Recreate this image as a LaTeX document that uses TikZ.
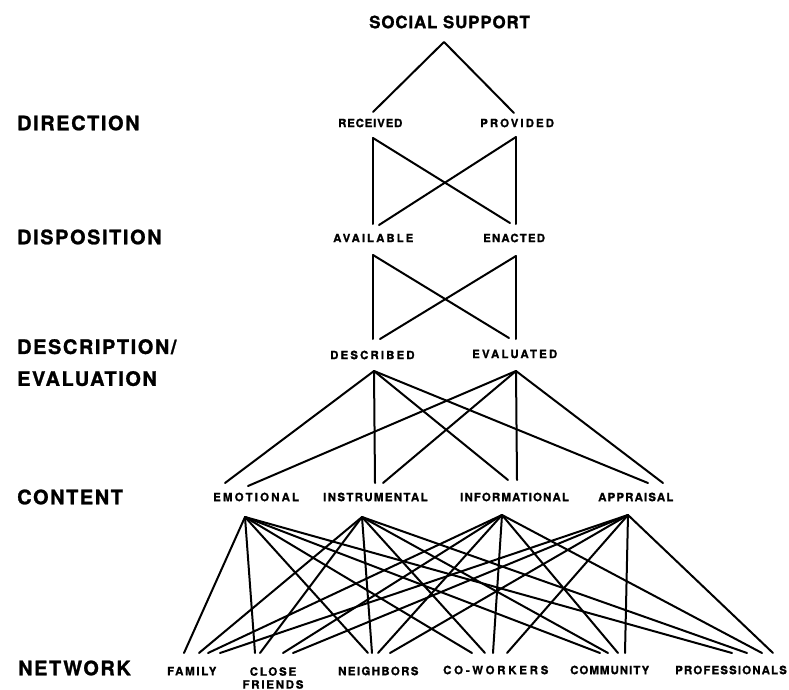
\documentclass[tikz,border=0pt]{standalone}
\usepackage{fontspec}
\setmainfont{TeX Gyre Heros}[BoldFeatures={FakeBold=1.2}]
\newcommand\lsp[1]{\addfontfeatures{LetterSpace=#1}}
\begin{document}
\begin{tikzpicture}[x=1bp,y=-1bp,
  lbl/.style={inner sep=0pt, anchor=west, font=\fontsize{11.5}{13}\selectfont\bfseries},
  lvl/.style={inner sep=0pt, anchor=west, font=\fontsize{20}{32}\selectfont\bfseries},
  ttl/.style={inner sep=0pt, anchor=west, font=\fontsize{17}{20}\selectfont\bfseries},
  conn/.style={line width=2bp, line cap=round, line join=round}]
\useasboundingbox (0,0) rectangle (789,690);

% level labels
\node[lvl] (Ldir) at (17,123) {\lsp{8}DIRECTION};
\node[lvl] (Ldisp) at (17,237) {\lsp{8}DISPOSITION};
\node[lvl, anchor=north west, align=left] (Ldesc) at (17,339) {\lsp{8}DESCRIPTION/\\\lsp{8}EVALUATION};
\node[lvl] (Lcont) at (17,497) {\lsp{8}CONTENT};
\node[lvl] (Lnet) at (18,668) {\lsp{8}NETWORK};

% node labels
\node[ttl] (ss) at (369,22) {\lsp{5}SOCIAL SUPPORT};
\node[lbl] (rec) at (338,123) {\lsp{7}RECEIVED};
\node[lbl] (prov) at (480,123) {\lsp{18}PROVIDED};
\node[lbl] (av) at (333,238) {\lsp{17.5}AVAILABLE};
\node[lbl] (en) at (483,238) {\lsp{10}ENACTED};
\node[lbl] (de) at (330,355) {\lsp{18.5}DESCRIBED};
\node[lbl] (ev) at (472,354) {\lsp{19}EVALUATED};
\node[lbl] (em) at (213,497) {\lsp{19}EMOTIONAL};
\node[lbl] (ins) at (323,497) {\lsp{12}INSTRUMENTAL};
\node[lbl] (inf) at (460,497) {\lsp{10}INFORMATIONAL};
\node[lbl] (ap) at (598,497) {\lsp{10}APPRAISAL};
\node[lbl] (fa) at (167,671) {\lsp{15}FAMILY};
\node[lbl, anchor=north, align=center] (cf) at (273,667) {{\lsp{16}CLOSE}\\{\lsp{15.5}FRIENDS}};
\node[lbl] (ne) at (338,671) {\lsp{12}NEIGHBORS};
\node[lbl] (cw) at (443,670) {\lsp{24}CO-WORKERS};
\node[lbl] (co) at (570,670) {\lsp{9}COMMUNITY};
\node[lbl] (pr) at (675,670) {\lsp{10}PROFESSIONALS};

% connection points
\coordinate (ss-b) at (444,42);
\coordinate (rec-t) at (373,112); \coordinate (prov-t) at (514,113);
\coordinate (rec-b) at (373,138); \coordinate (prov-b) at (516,137);
\coordinate (av-t1) at (373,224); \coordinate (av-t2) at (379,225);
\coordinate (en-t1) at (510,223); \coordinate (en-t2) at (516,224);
\coordinate (av-b) at (373,255); \coordinate (en-b) at (516,256);
\coordinate (de-t1) at (373,339); \coordinate (de-t2) at (380,339);
\coordinate (ev-t1) at (509,338); \coordinate (ev-t2) at (516,339);
\coordinate (de-b) at (374,371); \coordinate (ev-b) at (516,371);
\coordinate (em-t1) at (225,483); \coordinate (em-t2) at (248,486);
\coordinate (in-t1) at (375,483); \coordinate (in-t2) at (383,483);
\coordinate (inf-t1) at (508,480); \coordinate (inf-t2) at (517,480);
\coordinate (ap-t1) at (648,483); \coordinate (ap-t2) at (663,483);
\coordinate (em-b) at (245,517); \coordinate (in-b) at (362,517);
\coordinate (inf-b) at (502,515); \coordinate (ap-b) at (628,515);
\foreach \n/\a/\b/\c/\d in {fa/184/199/208/220, cf/255/260/283/293, ne/368/372/378/390, cw/472/485/493/507, co/600/608/618/625, pr/732/747/762/773}{
  \coordinate (\n-1) at (\a,653);
  \coordinate (\n-2) at (\b,653);
  \coordinate (\n-3) at (\c,653);
  \coordinate (\n-4) at (\d,653);
}

% connectors
\draw[conn] (rec-t) -- (ss-b) -- (prov-t);
\draw[conn] (rec-b) -- (av-t1);
\draw[conn] (rec-b) -- (en-t1);
\draw[conn] (prov-b) -- (en-t2);
\draw[conn] (prov-b) -- (av-t2);
\draw[conn] (av-b) -- (de-t1);
\draw[conn] (av-b) -- (ev-t1);
\draw[conn] (en-b) -- (ev-t2);
\draw[conn] (en-b) -- (de-t2);
\draw[conn] (de-b) -- (em-t1);
\draw[conn] (de-b) -- (in-t1);
\draw[conn] (de-b) -- (inf-t1);
\draw[conn] (de-b) -- (ap-t1);
\draw[conn] (ev-b) -- (em-t2);
\draw[conn] (ev-b) -- (in-t2);
\draw[conn] (ev-b) -- (inf-t2);
\draw[conn] (ev-b) -- (ap-t2);
\foreach \n in {fa,cf,ne,cw,co,pr}{
  \draw[conn] (em-b) -- (\n-1);
  \draw[conn] (in-b) -- (\n-2);
  \draw[conn] (inf-b) -- (\n-3);
  \draw[conn] (ap-b) -- (\n-4);
}
\end{tikzpicture}
\end{document}
